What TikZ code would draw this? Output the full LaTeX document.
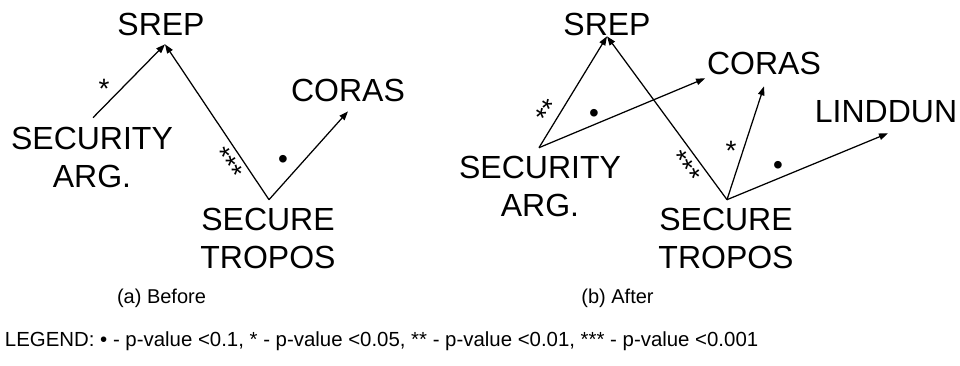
\documentclass[tikz,border=0pt]{standalone}
\usepackage{fontspec}
\setmainfont{Liberation Sans}
\usetikzlibrary{arrows.meta,calc}
\begin{document}
\begin{tikzpicture}[x=1pt,y=-1pt,
  term/.style={inner sep=0pt, outer sep=0pt, align=center,
    font=\fontsize{32}{38}\selectfont},
  % significance marks: box centred on the glyph ink
  sig/.style={inner sep=0pt, outer sep=0pt, font=\fontsize{28}{28}\selectfont,
    text height=20.5pt, text depth=-11.7pt},
  dot/.style={inner sep=0pt, outer sep=0pt, font=\fontsize{28}{28}\selectfont,
    text height=14pt, text depth=-5.6pt},
  link/.style={-{Triangle[length=9pt,width=6.5pt]}, line width=1.25pt},
  caption/.style={inner sep=0pt, outer sep=0pt, anchor=base,
    font=\fontsize{20}{24}\selectfont},
]
\useasboundingbox (0,0) rectangle (960,365);

% ---------- (a) Before ----------
\node[term] (srepA) at (161,24)  {SREP};
\node[term] (secA)  at (92,157)  {SECURITY\\ARG.};
\node[term] (stA)   at (268,238) {SECURE\\TROPOS};
\node[term] (corA)  at (348,90)  {CORAS};

\draw[link] ($(secA.north)+(1,-9)$) -- ($(srepA.south)+(4,9)$);
\draw[link] ($(stA.north)+(1,-8)$)  -- ($(srepA.south)+(4,9)$);
\draw[link] ($(stA.north)+(1,-8)$)  -- ($(corA.south)+(0,10)$);

\node[sig]              (mA1) at (104,88)  {*};
\node[sig, rotate=-56]  (mA2) at (228,163) {***};
\node[dot]              (mA3) at (283,161) {•};

\node[caption] (capA) at (161.5,303) {(a) Before};

% ---------- (b) After ----------
\node[term] (srepB) at (607,24)    {SREP};
\node[term] (secB)  at (540,186)   {SECURITY\\ARG.};
\node[term] (stB)   at (726,238)   {SECURE\\TROPOS};
\node[term] (corB)  at (764,63)    {CORAS};
\node[term] (linB)  at (886,111.5) {LINDDUN};

\draw[link] ($(secB.north)+(-1,-8)$) -- ($(srepB.south)+(0,1)$);
\draw[link] ($(secB.north)+(-1,-8)$) -- ($(corB.south west)+(-2,4)$);
\draw[link] ($(stB.north)+(1,-8)$)   -- ($(srepB.south)+(0,1)$);
\draw[link] ($(stB.north)+(1,-8)$)   -- ($(corB.south)+(0,12)$);
\draw[link] ($(stB.north)+(1,-8)$)   -- ($(linB.south)+(2,10.6)$);

\node[sig, rotate=58]    (mB1) at (548,111) {**};
\node[dot]               (mB2) at (594,115) {•};
\node[sig, rotate=-53.5] (mB3) at (685,167) {***};
\node[sig]               (mB4) at (731,150) {*};
\node[dot]               (mB5) at (778,167) {•};

\node[caption] (capB) at (617.5,303) {(b) After};

% ---------- legend ----------
\node[caption, anchor=base west, font=\fontsize{20.4}{24}\selectfont] (legend) at (5,346)
  {LEGEND: • - p-value <0.1, * - p-value <0.05, ** - p-value <0.01, *** - p-value <0.001};
\end{tikzpicture}
\end{document}
